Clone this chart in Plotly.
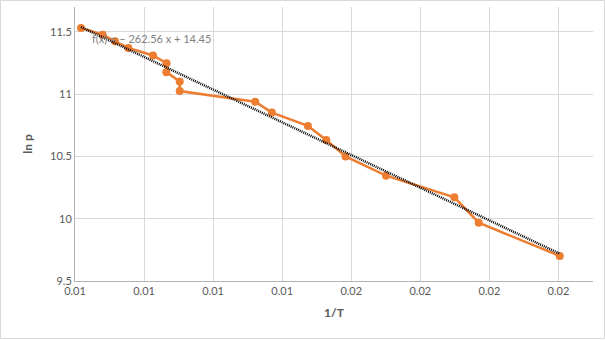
import plotly.graph_objects as go
import numpy as np

inv_T = [0.011087, 0.011401, 0.011580, 0.011772, 0.012130, 0.012326, 0.012322,
         0.012516, 0.012516, 0.013609, 0.013851, 0.014372, 0.014638, 0.014917,
         0.015503, 0.016493, 0.016845, 0.018019]
ln_p = [11.532, 11.478, 11.425, 11.371, 11.311, 11.249, 11.177, 11.102, 11.025,
        10.940, 10.852, 10.745, 10.633, 10.500, 10.346, 10.172, 9.968, 9.701]
slope = -262.56
intercept = 14.45
x_ticks = [0.011, 0.012, 0.013, 0.014, 0.015, 0.016, 0.017, 0.018]
x_tick_labels = ["0.01", "0.01", "0.01", "0.01", "0.02", "0.02", "0.02", "0.02"]
y_ticks = [9.5, 10, 10.5, 11, 11.5]
y_tick_labels = ["9.5", "10", "10.5", "11", "11.5"]

tx = np.array([min(inv_T), max(inv_T)])
ty = slope * tx + intercept

W, H = 605, 340
ml, mr, mt, mb = 75, 12, 7, 59
pw, ph = W - ml - mr, H - mt - mb

fig = go.Figure()
fig.add_trace(go.Scatter(x=inv_T, y=ln_p, mode="lines+markers",
                         line=dict(color="#ED7D31", width=2.5),
                         marker=dict(color="#ED7D31", size=8),
                         showlegend=False, hoverinfo="skip"))
fig.add_trace(go.Scatter(x=tx, y=ty, mode="lines",
                         line=dict(color="black", width=2.5, dash="1px,1px"),
                         showlegend=False, hoverinfo="skip"))

fig.add_annotation(text="f(x) = − 262.56 x + 14.45", xref="paper", yref="paper",
                   x=(90 - ml) / pw, y=(H - mb - 38) / ph, xanchor="left", yanchor="middle",
                   showarrow=False, font=dict(family="Lato", size=11, color="#7f7f7f"))

fig.add_shape(type="rect", xref="paper", yref="paper",
              x0=(0.5 - ml) / pw, x1=(604.5 - ml) / pw,
              y0=(H - mb - 338.5) / ph, y1=(H - mb - 0.5) / ph,
              line=dict(color="#d9d9d9", width=1), layer="below")

fig.update_layout(
    width=W, height=H, margin=dict(l=ml, r=mr, t=mt, b=mb),
    paper_bgcolor="white", plot_bgcolor="white",
    font=dict(family="Lato", color="#595959"),
    xaxis=dict(range=[0.011, 0.0185], tickvals=x_ticks, ticktext=x_tick_labels,
               showgrid=True, gridcolor="#d9d9d9", gridwidth=1,
               showline=True, linecolor="#b3b3b3", linewidth=1, zeroline=False,
               ticks="", tickfont=dict(size=11, color="#595959"),
               title=dict(text="<b>1/T</b>", font=dict(size=12, color="#595959"), standoff=12)),
    yaxis=dict(range=[9.5, 11.7], tickvals=y_ticks, ticktext=y_tick_labels,
               showgrid=True, gridcolor="#d9d9d9", gridwidth=1,
               showline=True, linecolor="#b3b3b3", linewidth=1, zeroline=False,
               ticks="", tickfont=dict(size=11, color="#595959"),
               title=dict(text="<b>ln p</b>", font=dict(size=12, color="#595959"), standoff=14)),
)

fig.write_html("out.html")
